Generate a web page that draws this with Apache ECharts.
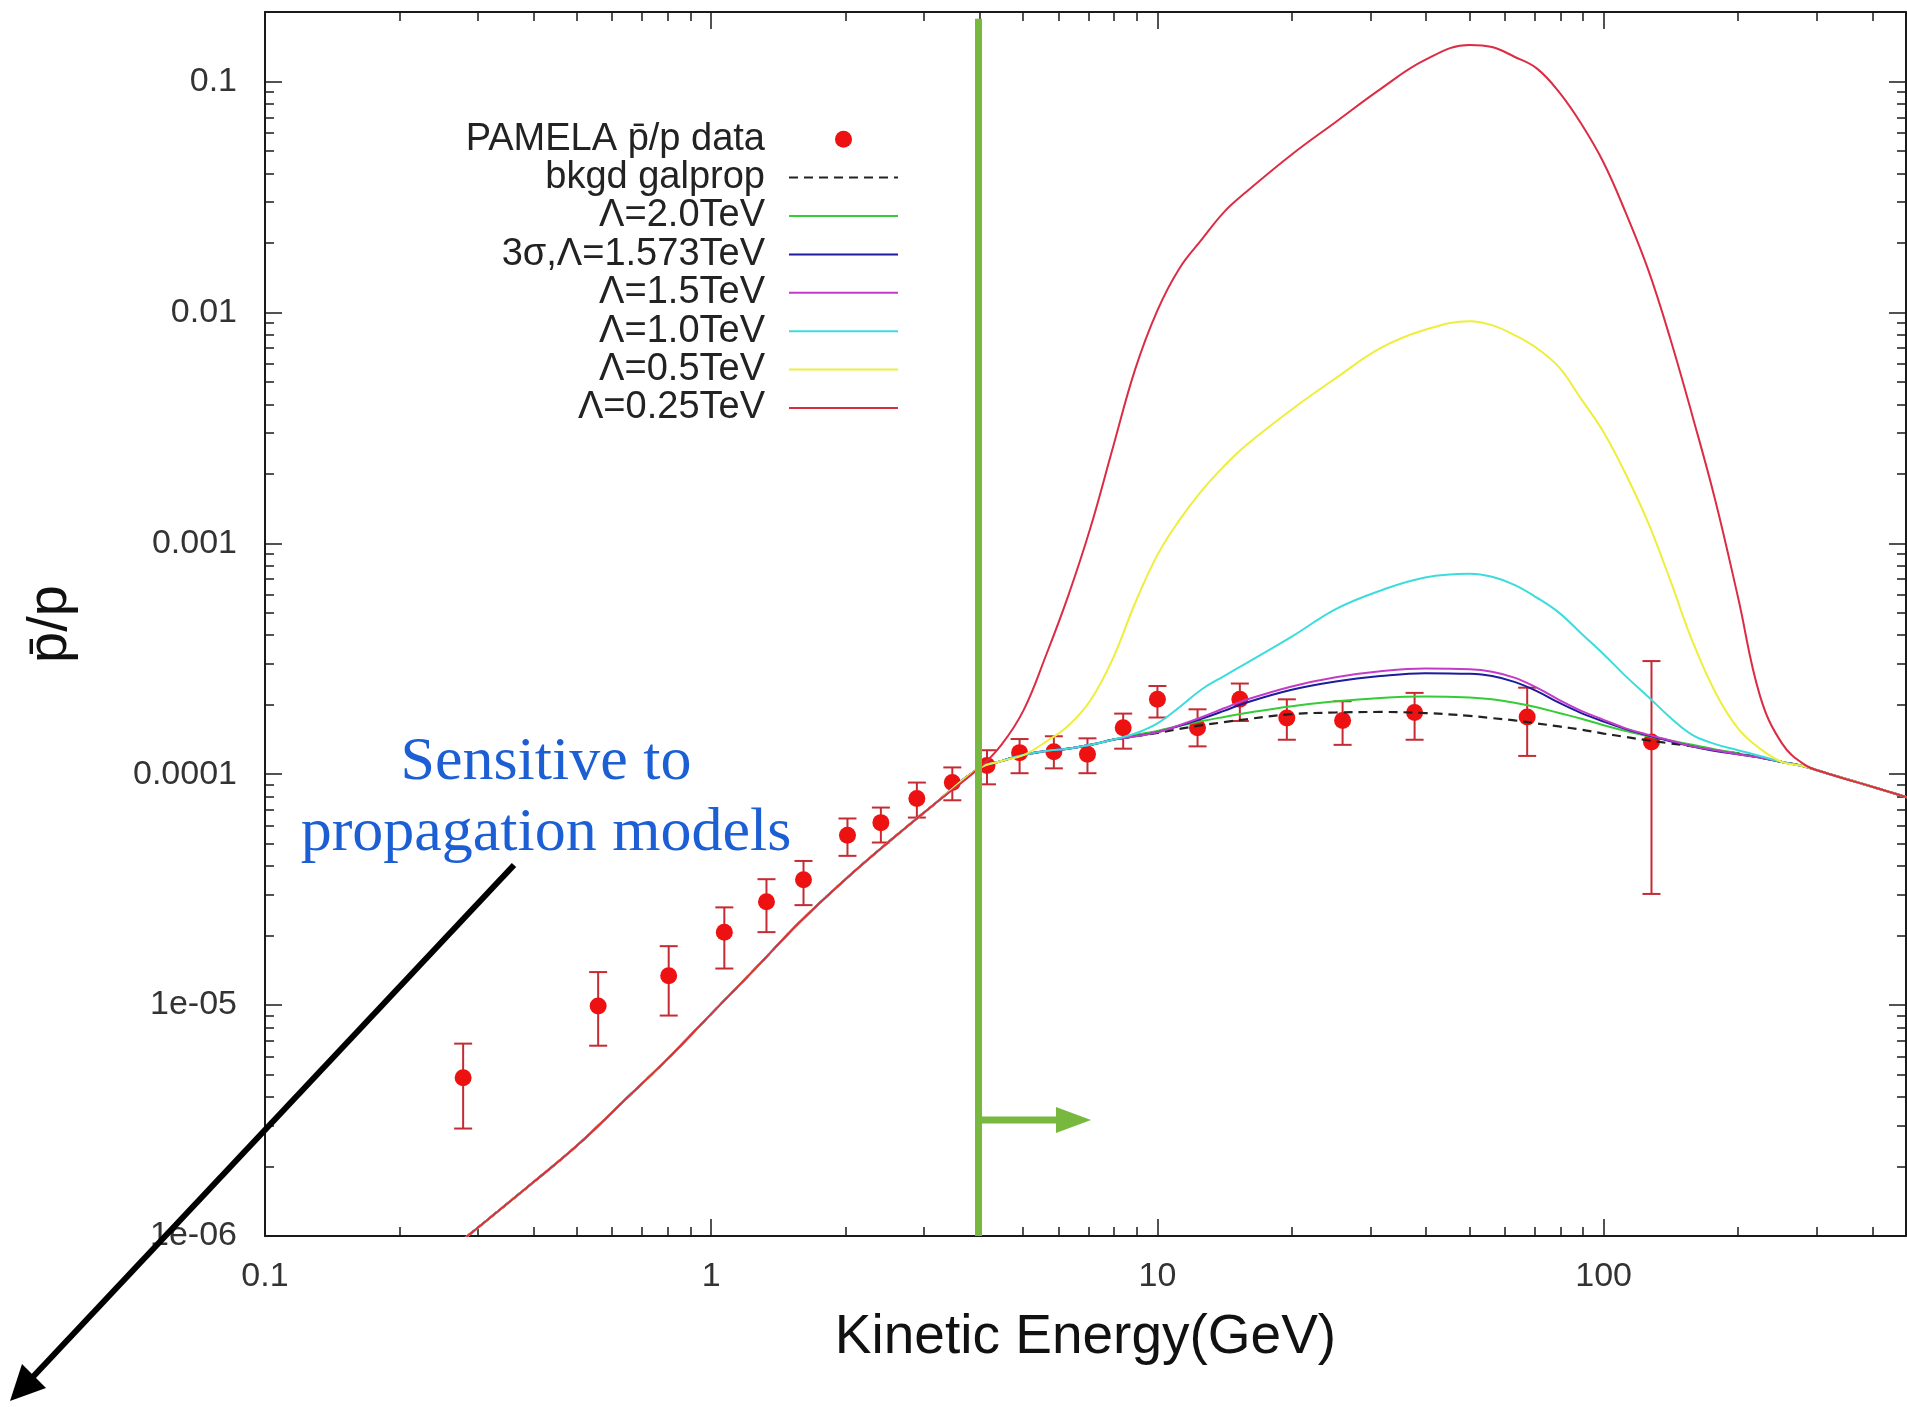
<!DOCTYPE html>
<html>
<head>
<meta charset="utf-8">
<title>PAMELA pbar/p</title>
<script src="https://cdn.jsdelivr.net/npm/echarts@6.0.0/dist/echarts.min.js"></script>
<style>
  html, body { margin: 0; padding: 0; background: #fff; }
  #chart { width: 1907px; height: 1407px; }
</style>
</head>
<body>
<div id="chart"></div>
<script>
// energy grid of the model curves (GeV)
var energy = [0.251, 0.316, 0.398, 0.501, 0.631, 0.794, 1.0, 1.26, 1.58, 2.0, 2.51, 3.16, 3.98,
  4.47, 5.01, 5.62, 6.31, 7.08, 7.94, 8.91, 10.0, 11.2, 12.6, 14.1, 15.8, 20.0, 25.1, 31.6, 39.8,
  50.1, 56.2, 63.1, 70.8, 79.4, 89.1, 100, 112, 126, 141, 158, 178, 200, 224, 251, 282, 316, 398, 479];

// below ~4 GeV all the curves lie on top of each other
var lowCurve = [8.22e-7, 1.18e-6, 1.70e-6, 2.47e-6, 3.78e-6, 5.79e-6, 9.16e-6, 1.45e-5, 2.29e-5,
  3.51e-5, 5.13e-5, 7.41e-5, 1.06e-4];

// from 4.47 GeV on
var bkgd = [1.14e-4, 1.21e-4, 1.26e-4, 1.29e-4, 1.34e-4, 1.41e-4, 1.46e-4, 1.51e-4, 1.57e-4, 1.63e-4,
  1.68e-4, 1.73e-4, 1.82e-4, 1.85e-4, 1.86e-4, 1.84e-4, 1.79e-4, 1.75e-4, 1.71e-4, 1.66e-4,
  1.61e-4, 1.56e-4, 1.50e-4, 1.45e-4, 1.40e-4, 1.36e-4, 1.32e-4, 1.27e-4, 1.23e-4, 1.18e-4,
  1.13e-4, 1.08e-4, 1.01e-4, 8.85e-5, 7.94e-5];
var lam20 = [1.14e-4, 1.21e-4, 1.26e-4, 1.29e-4, 1.34e-4, 1.41e-4, 1.48e-4, 1.54e-4, 1.62e-4, 1.70e-4,
  1.77e-4, 1.84e-4, 1.97e-4, 2.07e-4, 2.14e-4, 2.17e-4, 2.15e-4, 2.11e-4, 2.04e-4, 1.95e-4,
  1.84e-4, 1.74e-4, 1.63e-4, 1.54e-4, 1.46e-4, 1.40e-4, 1.34e-4, 1.28e-4, 1.23e-4, 1.18e-4,
  1.13e-4, 1.08e-4, 1.01e-4, 8.85e-5, 7.94e-5];
var lam1573 = [1.14e-4, 1.21e-4, 1.26e-4, 1.29e-4, 1.34e-4, 1.41e-4, 1.46e-4, 1.52e-4, 1.62e-4, 1.74e-4,
  1.88e-4, 2.04e-4, 2.32e-4, 2.52e-4, 2.66e-4, 2.74e-4, 2.72e-4, 2.66e-4, 2.51e-4, 2.29e-4,
  2.04e-4, 1.84e-4, 1.69e-4, 1.57e-4, 1.47e-4, 1.39e-4, 1.32e-4, 1.26e-4, 1.22e-4, 1.18e-4,
  1.13e-4, 1.08e-4, 1.01e-4, 8.85e-5, 7.94e-5];
var lam15 = [1.14e-4, 1.21e-4, 1.26e-4, 1.29e-4, 1.34e-4, 1.41e-4, 1.46e-4, 1.52e-4, 1.63e-4, 1.77e-4,
  1.93e-4, 2.10e-4, 2.40e-4, 2.63e-4, 2.79e-4, 2.87e-4, 2.85e-4, 2.78e-4, 2.62e-4, 2.37e-4,
  2.10e-4, 1.88e-4, 1.72e-4, 1.58e-4, 1.48e-4, 1.40e-4, 1.32e-4, 1.27e-4, 1.22e-4, 1.18e-4,
  1.13e-4, 1.08e-4, 1.01e-4, 8.85e-5, 7.94e-5];
var lam10 = [1.14e-4, 1.21e-4, 1.26e-4, 1.29e-4, 1.34e-4, 1.41e-4, 1.50e-4, 1.66e-4, 1.95e-4, 2.34e-4,
  2.66e-4, 3.02e-4, 3.94e-4, 5.19e-4, 6.24e-4, 7.11e-4, 7.38e-4, 7.16e-4, 6.61e-4, 5.82e-4,
  5.01e-4, 4.07e-4, 3.31e-4, 2.66e-4, 2.16e-4, 1.76e-4, 1.48e-4, 1.35e-4, 1.27e-4, 1.20e-4,
  1.13e-4, 1.08e-4, 1.01e-4, 8.85e-5, 7.94e-5];
var lam05 = [1.14e-4, 1.21e-4, 1.38e-4, 1.62e-4, 2.09e-4, 3.16e-4, 5.50e-4, 8.91e-4, 1.26e-3, 1.70e-3,
  2.16e-3, 2.66e-3, 3.80e-3, 5.19e-3, 7.00e-3, 8.41e-3, 9.16e-3, 8.81e-3, 7.98e-3, 7.00e-3,
  5.79e-3, 4.21e-3, 3.03e-3, 2.00e-3, 1.22e-3, 6.92e-4, 3.78e-4, 2.26e-4, 1.58e-4, 1.29e-4,
  1.13e-4, 1.08e-4, 1.01e-4, 8.85e-5, 7.94e-5];
var lam025 = [1.34e-4, 1.89e-4, 3.25e-4, 5.92e-4, 1.17e-3, 2.58e-3, 5.65e-3, 1.02e-2, 1.55e-2, 2.08e-2,
  2.72e-2, 3.32e-2, 4.83e-2, 6.68e-2, 9.27e-2, 0.124, 0.144, 0.141, 0.128, 0.114,
  9.02e-2, 6.56e-2, 4.45e-2, 2.71e-2, 1.52e-2, 7.71e-3, 3.58e-3, 1.53e-3, 5.85e-4, 2.19e-4,
  1.36e-4, 1.10e-4, 1.01e-4, 8.85e-5, 7.94e-5];

// PAMELA pbar/p points
var pamelaE = [0.278, 0.558, 0.803, 1.07, 1.33, 1.61, 2.02, 2.40, 2.89, 3.47, 4.15, 4.91, 5.86, 6.97,
  8.38, 10.0, 12.3, 15.3, 19.5, 26.0, 37.7, 67.4, 128];
var pamelaR = [4.85e-6, 9.92e-6, 1.34e-5, 2.07e-5, 2.80e-5, 3.49e-5, 5.44e-5, 6.17e-5, 7.84e-5, 9.20e-5,
  1.09e-4, 1.24e-4, 1.25e-4, 1.22e-4, 1.59e-4, 2.11e-4, 1.59e-4, 2.11e-4, 1.75e-4, 1.71e-4,
  1.85e-4, 1.77e-4, 1.38e-4];
var pamelaHi = [6.81e-6, 1.39e-5, 1.80e-5, 2.65e-5, 3.51e-5, 4.21e-5, 6.43e-5, 7.17e-5, 9.20e-5, 1.07e-4,
  1.27e-4, 1.42e-4, 1.46e-4, 1.43e-4, 1.83e-4, 2.41e-4, 1.91e-4, 2.47e-4, 2.11e-4, 2.07e-4,
  2.25e-4, 2.37e-4, 3.09e-4];
var pamelaLo = [2.92e-6, 6.67e-6, 9.01e-6, 1.44e-5, 2.07e-5, 2.71e-5, 4.43e-5, 5.06e-5, 6.49e-5, 7.71e-5,
  9.04e-5, 1.01e-4, 1.06e-4, 1.01e-4, 1.29e-4, 1.76e-4, 1.32e-4, 1.70e-4, 1.41e-4, 1.34e-4,
  1.41e-4, 1.20e-4, 3.03e-5];

var xTickLabels = ['0.1', '1', '10', '100'];
var yTickLabels = ['1e-06', '1e-05', '0.0001', '0.001', '0.01', '0.1'];

// cut drawn on the slide (GeV) and top of that line
var cutEnergy = 3.96;
var cutTop = 0.187;

var names = ['PAMELA p\u0304/p data', 'bkgd galprop', '\u039b=2.0TeV', '3\u03c3,\u039b=1.573TeV',
  '\u039b=1.5TeV', '\u039b=1.0TeV', '\u039b=0.5TeV', '\u039b=0.25TeV'];
var models = [bkgd, lam20, lam1573, lam15, lam10, lam05, lam025];
var colors = ['#222222', '#35cc35', '#1c1c9c', '#c23cc8', '#3ddcdc', '#eeee3c', '#dc2c44'];

var lg = Math.log10;
var X_MIN = -1, X_MAX = lg(476);
var Y_MIN = -6, Y_MAX = lg(0.2);

function minorTicks(from, to, max) {
  var out = [];
  for (var d = from; d < to; d++) {
    for (var k = 2; k <= 9; k++) {
      var v = d + lg(k);
      if (v < max) out.push(v);
    }
  }
  return out;
}
var xMajor = [-1, 0, 1, 2], yMajor = [-6, -5, -4, -3, -2, -1];
var xMinor = minorTicks(-1, 3, X_MAX), yMinor = minorTicks(-6, 0, Y_MAX);

var axisColor = '#1a1a1a';
var font = 'Liberation Sans';

function xAxis(pos, major) {
  return {
    type: 'value', min: X_MIN, max: X_MAX, position: pos,
    axisLine: { show: major, onZero: false, lineStyle: { color: axisColor, width: 2 } },
    axisTick: { show: true, inside: true, length: major ? 17 : 9, customValues: major ? xMajor : xMinor,
      lineStyle: { color: axisColor, width: 1.5 } },
    axisLabel: { show: major && pos === 'bottom', customValues: xMajor, margin: 24,
      fontFamily: font, fontSize: 34, color: '#333',
      formatter: function (v) { return xTickLabels[Math.round(v) + 1]; } },
    splitLine: { show: false }
  };
}
function yAxis(pos, major) {
  return {
    type: 'value', min: Y_MIN, max: Y_MAX, position: pos,
    axisLine: { show: major, onZero: false, lineStyle: { color: axisColor, width: 2 } },
    axisTick: { show: true, inside: true, length: major ? 17 : 9, customValues: major ? yMajor : yMinor,
      lineStyle: { color: axisColor, width: 1.5 } },
    axisLabel: { show: major && pos === 'left', customValues: yMajor, margin: 28,
      fontFamily: font, fontSize: 34, color: '#333',
      formatter: function (v) { return yTickLabels[Math.round(v) + 6]; } },
    splitLine: { show: false }
  };
}

var xAxes = [xAxis('bottom', true), xAxis('bottom', false), xAxis('top', true), xAxis('top', false)];
xAxes[0].name = 'Kinetic Energy(GeV)';
xAxes[0].nameLocation = 'middle';
xAxes[0].nameGap = 74;
xAxes[0].nameTextStyle = { fontFamily: font, fontSize: 55, color: '#111' };

var yAxes = [yAxis('left', true), yAxis('left', false), yAxis('right', true), yAxis('right', false)];
yAxes[0].name = 'p\u0304/p';
yAxes[0].nameLocation = 'middle';
yAxes[0].nameRotate = 90;
yAxes[0].nameGap = 186;
yAxes[0].nameTextStyle = { fontFamily: font, fontSize: 56, color: '#111' };

var series = [];
series.push({
  name: 'errors', type: 'custom', z: 2,
  data: pamelaE.map(function (e, i) { return [lg(e), lg(pamelaLo[i]), lg(pamelaHi[i])]; }),
  encode: { x: 0, y: [1, 2] },
  renderItem: function (params, api) {
    var lo = api.coord([api.value(0), api.value(1)]);
    var hi = api.coord([api.value(0), api.value(2)]);
    var w = 9, st = { stroke: '#c42b33', lineWidth: 2 };
    return { type: 'group', children: [
      { type: 'line', shape: { x1: lo[0], y1: lo[1], x2: hi[0], y2: hi[1] }, style: st },
      { type: 'line', shape: { x1: lo[0] - w, y1: lo[1], x2: lo[0] + w, y2: lo[1] }, style: st },
      { type: 'line', shape: { x1: hi[0] - w, y1: hi[1], x2: hi[0] + w, y2: hi[1] }, style: st }
    ] };
  }
});
series.push({
  name: names[0], type: 'scatter', symbol: 'circle', symbolSize: 17,
  itemStyle: { color: '#ee1111', opacity: 1 },
  data: pamelaE.map(function (e, i) { return [lg(e), lg(pamelaR[i])]; })
});
models.forEach(function (m, k) {
  var vals = lowCurve.concat(m);
  series.push({
    name: names[k + 1], type: 'line', symbol: 'none', smooth: 0.4,
    color: colors[k],
    lineStyle: { color: colors[k], width: k === 0 ? 2.2 : 2, type: k === 0 ? [9, 6] : 'solid' },
    data: energy.map(function (e, i) { return [lg(e), lg(vals[i])]; })
  });
});
// green cut line drawn over the plot
series.push({
  name: 'cut', type: 'line', data: [], z: 10,
  markLine: {
    silent: true, symbol: 'none', label: { show: false }, animation: false,
    lineStyle: { color: '#78b83e', width: 7, type: 'solid' },
    data: [[{ coord: [lg(cutEnergy), Y_MIN] }, { coord: [lg(cutEnergy), lg(cutTop)] }]]
  }
});

// line entries of the legend show the line only
var legendData = names.map(function (n, i) {
  return i === 0 ? { name: n } : { name: n, itemStyle: { opacity: 0 } };
});

var chart = echarts.init(document.getElementById('chart'));
chart.setOption({
  backgroundColor: '#fff',
  animation: false,
  grid: { left: 265, right: 1, top: 12, bottom: 171 },
  xAxis: xAxes,
  yAxis: yAxes,
  legend: {
    orient: 'vertical', align: 'right', right: 1008, top: 120, padding: 0, itemGap: 0,
    itemWidth: 109, itemHeight: 17, selectedMode: false,
    data: legendData,
    textStyle: { fontFamily: font, fontSize: 38, lineHeight: 38.4, color: '#222', padding: [0, 19, 0, 0] }
  },
  series: series,
  graphic: [
    { type: 'line', z: 100, shape: { x1: 978, y1: 1120, x2: 1062, y2: 1120 },
      style: { stroke: '#78b83e', lineWidth: 7 } },
    { type: 'polygon', z: 100, shape: { points: [[1091, 1120], [1056, 1107], [1056, 1133]] },
      style: { fill: '#78b83e' } },
    { type: 'line', z: 100, shape: { x1: 514, y1: 865, x2: 30, y2: 1380 },
      style: { stroke: '#000', lineWidth: 6 } },
    { type: 'polygon', z: 100, shape: { points: [[10, 1401], [46, 1388], [22, 1364]] },
      style: { fill: '#000' } },
    { type: 'text', z: 100, x: 546, y: 763,
      style: { text: 'Sensitive to', fill: '#1c5fd4', font: '62px "Liberation Serif"',
        align: 'center', verticalAlign: 'middle' } },
    { type: 'text', z: 100, x: 546, y: 834,
      style: { text: 'propagation models', fill: '#1c5fd4', font: '62px "Liberation Serif"',
        align: 'center', verticalAlign: 'middle' } }
  ]
});
</script>
</body>
</html>
